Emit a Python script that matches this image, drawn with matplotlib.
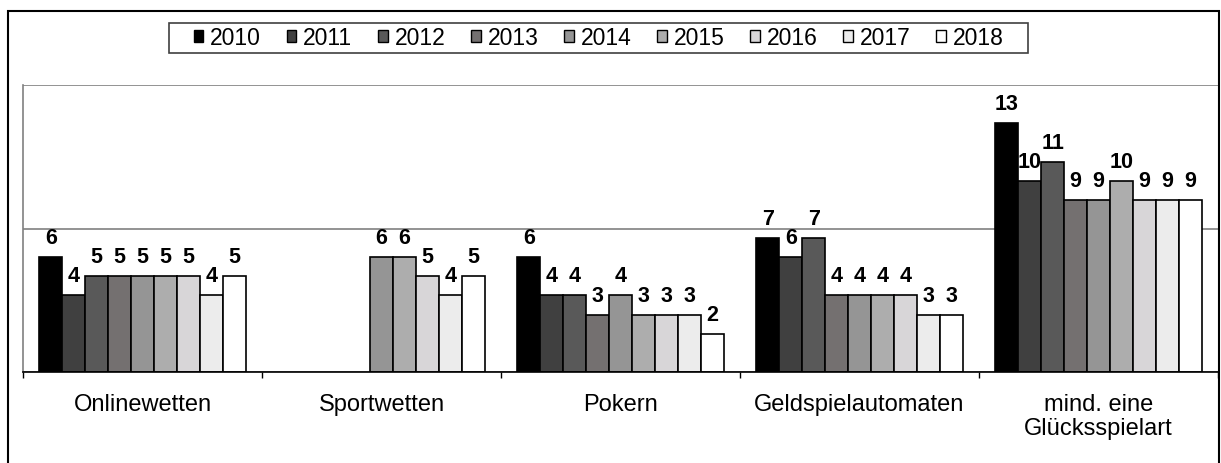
import numpy as np
import matplotlib
matplotlib.use("Agg")
import matplotlib.pyplot as plt
from matplotlib.patches import Rectangle

plt.rcParams['font.family'] = ['Liberation Sans', 'DejaVu Sans']

categories = ["Onlinewetten", "Sportwetten", "Pokern", "Geldspielautomaten", "mind. eine\nGlücksspielart"]
years = ["2010", "2011", "2012", "2013", "2014", "2015", "2016", "2017", "2018"]
nan = np.nan
v2010 = [6, nan, 6, 7, 13]
v2011 = [4, nan, 4, 6, 10]
v2012 = [5, nan, 4, 7, 11]
v2013 = [5, nan, 3, 4, 9]
v2014 = [5, 6, 4, 4, 9]
v2015 = [5, 6, 3, 4, 10]
v2016 = [5, 5, 3, 4, 9]
v2017 = [4, 4, 3, 3, 9]
v2018 = [5, 5, 2, 3, 9]
series = [v2010, v2011, v2012, v2013, v2014, v2015, v2016, v2017, v2018]
colors = ["#000000", "#404040", "#595959", "#747070", "#959595", "#adadad", "#d8d6d8", "#ececec", "#ffffff"]

W, H = 1221, 464
fig = plt.figure(figsize=(W / 100, H / 100), dpi=100)
ax = fig.add_axes([23 / W, 1 - 373 / H, (1218 - 23) / W, (373 - 86) / H])

w = 0.0958
x = np.arange(len(categories))
for j, (vals, c, yr) in enumerate(zip(series, colors, years)):
    xs = x + (j - 4) * w
    arr = np.array(vals, dtype=float)
    ax.bar(xs, arr, width=w, color=c, edgecolor="black", linewidth=1.2, label=yr, zorder=3)
    for xi, v in zip(xs, arr):
        if not np.isnan(v):
            ax.annotate(f"{int(v)}", (xi, v), xytext=(0, 6.5), textcoords="offset points",
                        ha="center", va="bottom", fontsize=15.5, fontweight="bold", zorder=5)

ax.set_xlim(-0.5, len(categories) - 0.5)
ax.set_ylim(0, 15)
ax.set_yticks([0, 7.5, 15])
ax.set_yticklabels([])
ax.tick_params(axis="y", length=0)
ax.grid(axis="y", color="#808080", linewidth=1.2, zorder=0)
ax.set_axisbelow(True)

ax.set_xticks(x)
ax.set_xticklabels(categories, fontsize=17, linespacing=1.15)
ax.tick_params(axis="x", which="major", length=0, pad=15)
ax.set_xticks(np.arange(-0.5, len(categories)), minor=True)
ax.tick_params(axis="x", which="minor", length=4, width=1, color="black", direction="out")

for s in ["top", "right"]:
    ax.spines[s].set_visible(False)
ax.spines["left"].set_color("#808080")
ax.spines["left"].set_linewidth(1.2)
ax.spines["bottom"].set_color("black")
ax.spines["bottom"].set_linewidth(1.2)
ax.spines["bottom"].set_zorder(4)

leg = fig.legend(loc="center", bbox_to_anchor=(598.5 / W, 1 - 38.5 / H), ncol=9, fontsize=16.5,
                 handlelength=0.42, handleheight=0.42, handletextpad=0.3, columnspacing=1.12,
                 frameon=False, borderpad=0.1, borderaxespad=0)
for p in leg.get_patches():
    p.set_linewidth(1.0)

# legend frame
fig.patches.append(Rectangle((169 / W, 1 - 53.5 / H), (1028 - 169) / W, 29.5 / H, transform=fig.transFigure,
                             fill=False, edgecolor="#404040", linewidth=1.2, zorder=9))
# outer border
fig.patches.append(Rectangle((8 / W, -0.05), (1219 - 8) / W, 1.05 - 12 / H, transform=fig.transFigure,
                             fill=False, edgecolor="black", linewidth=1.5, zorder=10))

fig.savefig("out.png", dpi=100)
